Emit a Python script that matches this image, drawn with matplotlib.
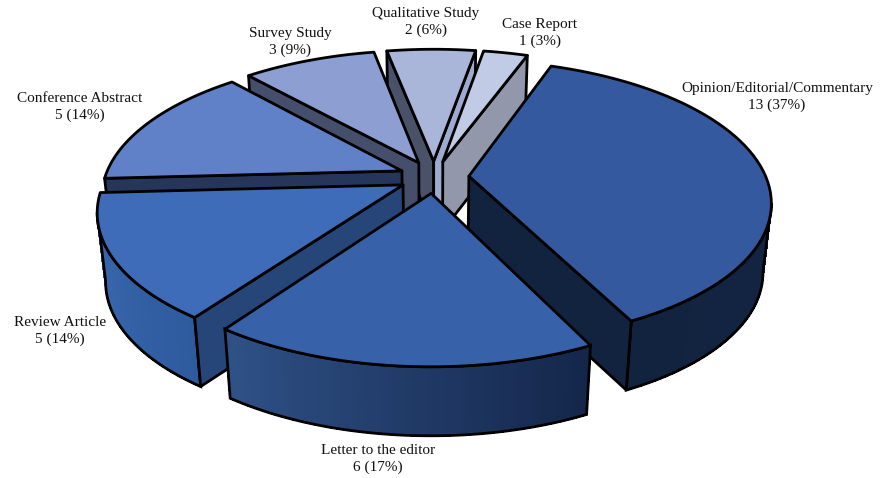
import numpy as np
import matplotlib
matplotlib.use("Agg")
import matplotlib.pyplot as plt
from matplotlib.colors import to_rgb

# ---------------- DATA ---------------- #

categories = ["Opinion/Editorial/Commentary", "Letter to the editor", "Review Article",
              "Conference Abstract", "Survey Study", "Qualitative Study", "Case Report"]
counts = [13, 6, 5, 5, 3, 2, 1]

# ---------------- STYLE ---------------- #

top_colors = ["#35599f", "#3762aa", "#3f6cb8", "#6080c8", "#8d9fd2", "#a9b6da", "#c2cbe6"]
# outer wall gradient, start -> end (clockwise)
wall_from = ["#14284a", "#14264a", "#2e5a9e", "#5070b0", "#6070a0", "#7080a0", "#9098b0"]
wall_to = ["#12233f", "#2f5288", "#3d6cb3", "#5070b0", "#6070a0", "#7080a0", "#9098b0"]
# radial walls: colour of the start edge and end edge, None when hidden
edge_start = [None, None, "#264579", "#25365a", "#454f6b", "#4a5269", None]
edge_end = ["#12233f", None, None, None, None, "#9dabd0", "#9397ab"]
label_pos = [(777, 97), (378, 459), (60, 331), (80, 107), (290, 42), (426, 22), (540, 33)]
draw_order = [5, 6, 4, 3, 2, 0, 1]

start_angle = 20
cx, cy = 434, 177
R = 297
squash = 0.46
persp = 0.175
explode = 35
depth = 69
shrink = 0.975

# ---------------- PROJECTION ---------------- #

def project(a, r, ox, oy, low=False):
    # a = degrees clockwise from north, r = radius on the ground plane
    gx = ox + r * np.sin(np.radians(a))
    gy = oy - r * np.cos(np.radians(a))
    w = 1 - persp * gy / R
    x = gx / w
    y = squash * gy / w
    if low:
        return cx + x * shrink, cy + y + depth
    return cx + x, cy + y


# ---------------- DRAW ---------------- #

fig = plt.figure(figsize=(8.92, 4.78), dpi=100)
ax = fig.add_axes([0, 0, 1, 1])
ax.set_xlim(0, 892)
ax.set_ylim(478, 0)
ax.axis("off")

total = sum(counts)
sweeps = [c / total * 360 for c in counts]
starts = start_angle + np.concatenate([[0], np.cumsum(sweeps)[:-1]])
LW = 2.0

for z, i in enumerate(draw_order):
    a0, a1 = starts[i], starts[i] + sweeps[i]
    mid = np.radians((a0 + a1) / 2)
    ox, oy = explode * np.sin(mid), -explode * np.cos(mid)
    angs = np.linspace(a0, a1, 60)
    upper = [project(a, R, ox, oy) for a in angs]

    # the outer wall only exists between the far right and far left of the rim
    full = np.linspace(0, 360, 721)
    full_x = project(full, R, ox, oy)[0]
    a_right, a_left = full[np.argmax(full_x)], full[np.argmin(full_x)]
    w0, w1 = max(a0, a_right), min(a1, a_left)

    if w1 > w0:
        wall = np.linspace(w0, w1, 60)
        c0, c1 = np.array(to_rgb(wall_from[i])), np.array(to_rgb(wall_to[i]))
        for k in range(len(wall) - 1):
            t = (wall[k] - a0) / (a1 - a0)
            col = c0 + (c1 - c0) * t
            p = [project(wall[k], R, ox, oy), project(wall[k + 1], R, ox, oy),
                 project(wall[k + 1], R, ox, oy, True), project(wall[k], R, ox, oy, True)]
            ax.fill(*zip(*p), facecolor=col, edgecolor=col, lw=0.8, antialiased=False, zorder=z)
        outline = [project(a, R, ox, oy) for a in wall] + [project(a, R, ox, oy, True) for a in wall[::-1]]
        ax.fill(*zip(*outline), facecolor="none", edgecolor="black", lw=LW, zorder=z)

    # radial walls
    for a, col in ((a0, edge_start[i]), (a1, edge_end[i])):
        if col is None:
            continue
        p = [project(a, 0, ox, oy), project(a, R, ox, oy),
             project(a, R, ox, oy, True), project(a, 0, ox, oy, True)]
        ax.fill(*zip(*p), facecolor=col, edgecolor="black", lw=LW, joinstyle="round", zorder=z)

    # top face
    top = [project(a0, 0, ox, oy)] + upper
    ax.fill(*zip(*top), facecolor=top_colors[i], edgecolor="black", lw=LW, joinstyle="round", zorder=z)

# Labels
for name, n, (x, y) in zip(categories, counts, label_pos):
    pct = round(n / total * 100)
    ax.text(x, y, f"{name}\n{n} ({pct}%)", ha="center", va="center", fontsize=11,
            family="Liberation Serif", linespacing=1.38, color="#111111", zorder=30)

fig.savefig("out.png", dpi=100, facecolor="white")
